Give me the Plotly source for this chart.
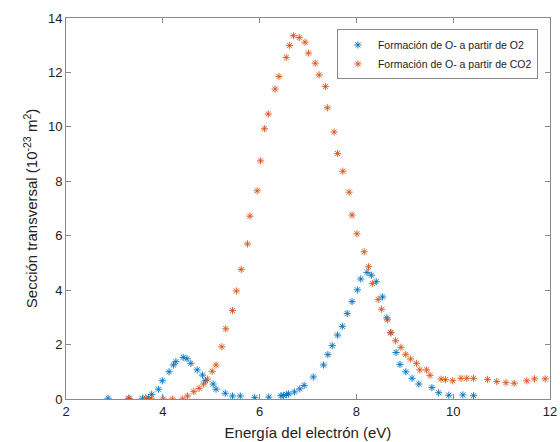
import plotly.graph_objects as go

# Electron energy (eV) and cross-section (1e-23 m^2): O- formation from O2
energy_o2 = [2.87, 3.30, 3.58, 3.70, 3.77, 3.91, 3.99, 4.13, 4.22, 4.27, 4.42, 4.50,
             4.58, 4.71, 4.82, 4.88, 5.04, 5.10, 5.29, 5.44, 5.60, 5.90, 6.19, 6.44,
             6.49, 6.56, 6.60, 6.72, 6.83, 6.92, 7.11, 7.32, 7.41, 7.50, 7.61, 7.71,
             7.81, 7.91, 8.02, 8.09, 8.22, 8.31, 8.41, 8.54, 8.63, 8.71, 8.82, 8.90,
             9.02, 9.15, 9.29, 9.56, 9.70, 9.91, 10.20, 10.42]
sigma_o2 = [0.03, 0.03, 0.03, 0.05, 0.17, 0.36, 0.67, 1.00, 1.25, 1.37, 1.53, 1.48,
            1.31, 1.07, 0.88, 0.67, 0.55, 0.36, 0.21, 0.11, 0.11, 0.05, 0.07, 0.12,
            0.13, 0.16, 0.19, 0.26, 0.37, 0.50, 0.81, 1.25, 1.63, 1.96, 2.35, 2.67,
            3.14, 3.58, 4.01, 4.41, 4.65, 4.55, 4.31, 3.75, 2.98, 2.43, 1.71, 1.27,
            1.00, 0.76, 0.55, 0.42, 0.23, 0.14, 0.15, 0.12]

# O- formation from CO2
energy_co2 = [3.30, 3.65, 3.76, 4.01, 4.20, 4.41, 4.51, 4.64, 4.75, 4.84, 4.92, 5.02,
              5.10, 5.22, 5.30, 5.44, 5.52, 5.62, 5.75, 5.80, 5.95, 6.02, 6.10, 6.18,
              6.32, 6.40, 6.55, 6.62, 6.70, 6.82, 6.94, 7.01, 7.15, 7.23, 7.36, 7.40,
              7.54, 7.61, 7.72, 7.85, 7.91, 8.01, 8.16, 8.25, 8.33, 8.45, 8.52, 8.64,
              8.71, 8.81, 8.92, 9.02, 9.12, 9.24, 9.31, 9.45, 9.52, 9.75, 9.84, 9.99,
              10.16, 10.28, 10.42, 10.71, 10.90, 11.09, 11.26, 11.52, 11.68, 11.90]
sigma_co2 = [0.02, 0.04, 0.03, 0.00, 0.00, 0.00, 0.11, 0.27, 0.39, 0.55, 0.73, 1.02,
             1.25, 1.92, 2.58, 3.25, 3.97, 4.76, 5.70, 6.72, 7.65, 8.75, 9.93, 10.47,
             11.39, 11.85, 12.55, 12.99, 13.35, 13.28, 13.11, 12.71, 12.34, 11.91, 11.48, 10.70,
             9.81, 9.02, 8.37, 7.60, 6.76, 6.07, 5.41, 4.86, 4.24, 3.66, 3.30, 2.91,
             2.44, 2.14, 1.90, 1.64, 1.47, 1.31, 1.07, 1.07, 0.87, 0.73, 0.71, 0.67,
             0.76, 0.76, 0.76, 0.72, 0.64, 0.60, 0.58, 0.67, 0.74, 0.74]

names = ["Formación de O- a partir de O2", "Formación de O- a partir de CO2"]
colors = ["#0072BD", "#D95319"]

fig = go.Figure()
for xs, ys, name, col in [(energy_o2, sigma_o2, names[0], colors[0]),
                          (energy_co2, sigma_co2, names[1], colors[1])]:
    fig.add_trace(go.Scatter(
        x=xs, y=ys, mode="markers", name=name,
        marker=dict(symbol="asterisk-open", size=6, color=col,
                    line=dict(color=col, width=0.9)),
    ))

axis_common = dict(
    showgrid=False, zeroline=False, showline=True, linecolor="#8a8a8a",
    linewidth=1, mirror="allticks", ticks="inside", ticklen=5, automargin=False,
    tickcolor="#8a8a8a", tickfont=dict(family="Liberation Sans, Arial", size=13, color="#222"),
)

fig.update_layout(
    width=560, height=442,
    margin=dict(l=66, r=10, t=18, b=43),
    paper_bgcolor="white", plot_bgcolor="white",
    font=dict(family="Liberation Sans, Arial", color="#222"),
    xaxis=dict(range=[2, 12], dtick=2, **axis_common,
               title=dict(text="Energía del electrón (eV)", font=dict(size=15), standoff=9)),
    yaxis=dict(range=[0, 14], dtick=2, **axis_common,
               title=dict(text="Sección transversal (10<sup>-23</sup> m<sup>2</sup>)",
                          font=dict(size=15), standoff=6)),
    legend=dict(x=0.975, y=0.97, xanchor="right", yanchor="top",
                bgcolor="white", bordercolor="#8a8a8a", borderwidth=1,
                font=dict(size=10.5, family="Liberation Sans, Arial", color="#222"),
                itemsizing="trace", tracegroupgap=0),
    showlegend=True,
)

fig.write_html("out.html")
